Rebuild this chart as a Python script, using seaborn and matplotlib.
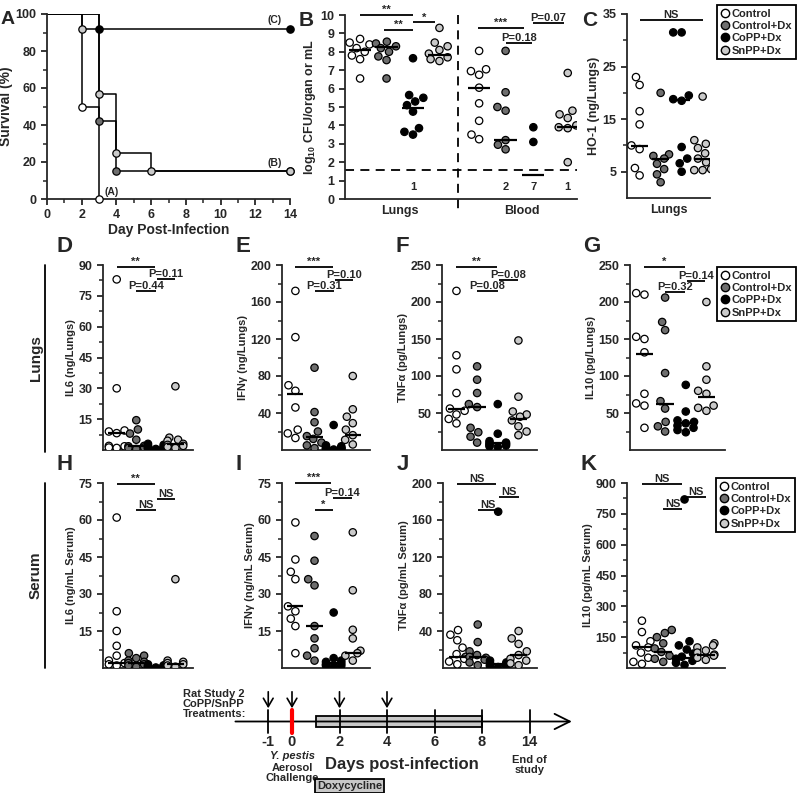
import warnings
import numpy as np
import pandas as pd
import matplotlib
matplotlib.use("Agg")
import matplotlib.pyplot as plt
from matplotlib.lines import Line2D
from matplotlib.patches import Rectangle
import seaborn as sns

warnings.filterwarnings("ignore")

groups = ["Control", "Control+Dx", "CoPP+Dx", "SnPP+Dx"]
group_colors = ["#ffffff", "#6e6e6e", "#000000", "#cacaca"]

# A: survival curves
surv_ctrl_days = [0, 2, 3]
surv_ctrl = [100, 50, 0]
surv_ctrldx_days = [0, 3, 4, 14]
surv_ctrldx = [100, 42, 15, 15]
surv_copp_days = [0, 3, 14]
surv_copp = [100, 92, 92]
surv_snpp_days = [0, 2, 3, 4, 6, 14]
surv_snpp = [100, 92, 57, 25, 15, 15]

# B: log10 CFU, lungs then blood
cfu_pos = [0, 1, 2, 3, 4.5, 5.5, 6.55, 7.85]
cfu_lung = [[8.7, 8.5, 8.4, 8.2, 8.0, 7.8, 7.6, 6.55],
            [8.55, 8.45, 8.3, 8.2, 8.0, 7.75, 7.55, 6.55],
            [7.65, 5.65, 5.5, 5.3, 5.1, 4.75, 3.85, 3.65, 3.5],
            [9.3, 8.5, 8.3, 8.1, 7.9, 7.7, 7.6, 7.5]]
cfu_blood = [[8.05, 7.05, 6.95, 6.75, 6.05, 5.2, 4.25, 3.5, 3.25],
             [8.05, 5.8, 5.0, 4.8, 3.2, 2.95, 2.7],
             [3.9, 3.1],
             [6.85, 4.8, 4.6, 4.4, 4.0, 3.9, 3.85, 2.0]]
cfu_med = [8.1, 8.25, 4.95, 7.85, 6.05, 3.2, 1.3, 3.9]
cfu_below_lod = ["", "", "1", "", "", "2", "7", "1"]
cfu_lod = 1.6

# C: HO-1 (ng/Lungs)
ho1 = [[23, 21.5, 16.5, 14, 10, 9.3, 5.7, 4.3],
       [20, 8.3, 8.0, 7.5, 6.5, 5.5, 4.5, 3.0],
       [31.5, 31.5, 19.5, 18.8, 18.5, 9.7, 7.5, 6.6, 5.0],
       [19.3, 11, 10.3, 9.5, 8.5, 7.5, 6.8, 5.5, 5.3, 5.3]]
ho1_med = [9.8, 7.5, 18.6, 7.5]

# D-G: lungs cytokines
il6_lung = [[83, 30, 9.5, 9.0, 8.2, 2.0, 1.8, 1.2, 1.0],
            [14.5, 10, 8, 5, 2.0, 1.8, 1.2, 1.0, 0.5],
            [3, 2.5, 2, 1.5, 1.5, 1, 1, 0.8, 0.5, 0.5],
            [31, 6, 5, 4.5, 3, 2.5, 2, 1.5, 1]]
il6_lung_med = [8.2, 2.0, 1.2, 2.8]
ifn_lung = [[172, 122, 70, 64, 46, 22, 18, 13],
            [89, 41, 30, 20, 15, 12, 8, 5, 2],
            [27, 5, 4, 3, 2, 2, 1.5, 1, 1, 0.5],
            [80, 44, 36, 29, 22, 16, 11, 6]]
ifn_lung_med = [61, 14, 2, 16]
tnf_lung = [[215, 128, 109, 77, 56, 53, 48, 42, 36],
            [113, 95, 77, 62, 58, 30, 24, 18, 10],
            [62, 22, 12, 10, 9, 8, 7, 6, 5, 4],
            [148, 72, 52, 48, 45, 40, 32, 25, 20]]
tnf_lung_med = [55, 58, 10, 42]
il10_lung = [[212, 210, 153, 150, 132, 76, 63, 60, 30],
             [206, 173, 162, 104, 66, 56, 38, 32, 25],
             [88, 52, 40, 38, 36, 33, 30, 27, 24],
             [200, 113, 95, 80, 76, 60, 57, 53]]
il10_lung_med = [130, 62, 36, 72]

# H-K: serum cytokines
il6_ser = [[61, 23, 15, 9, 5, 3, 2, 1.5, 1],
           [6, 5, 4, 3, 2.5, 2, 1.5, 1, 0.5],
           [1.5, 1, 1, 0.8, 0.5, 0.5, 0.3, 0.3, 0.2],
           [36, 3, 2.5, 2, 1.5, 1, 0.5]]
il6_ser_med = [2, 2, 0.5, 1.5]
ifn_ser = [[59, 44, 39, 36, 25, 23, 20, 17, 6],
           [53.5, 43.5, 36, 33.5, 17, 12, 8, 5, 3],
           [22.5, 4, 3, 2.5, 2, 1.5, 1, 1, 0.5],
           [55, 31.5, 15.5, 12, 7, 6, 5, 3]]
ifn_ser_med = [25, 17, 2, 6]
tnf_ser = [[41, 36, 30, 22, 15, 12, 10, 7, 4],
           [47, 28, 18, 14, 12, 11, 9, 6, 3],
           [169, 8, 6, 5, 4, 3, 3, 2, 2, 1],
           [40, 32, 26, 18, 14, 10, 8, 5, 3]]
tnf_ser_med = [12, 12, 4, 14]
il10_ser = [[230, 175, 130, 110, 100, 75, 50, 30, 20],
            [185, 170, 150, 120, 95, 78, 60, 45, 30],
            [820, 130, 110, 90, 70, 55, 45, 35, 25, 15],
            [120, 110, 100, 85, 75, 65, 60, 50, 40]]
il10_ser_med = [100, 78, 50, 65]

# significance bars: (x1, x2, y, label)
sig_b = [(0, 2, 10.0, "**"), (0.9, 2, 9.2, "**"), (2, 2.85, 9.6, "*"),
         (4.45, 6.2, 9.3, "***"), (5.5, 6.5, 8.5, "P=0.18"), (6.55, 7.7, 9.55, "P=0.07")]
sig_c = [(0, 3, 33.8, "NS")]
sig_d = [(0, 1.95, 89, "**"), (1, 2, 77.5, "P=0.44"), (2.05, 3, 83, "P=0.11")]
sig_e = [(0, 1.95, 198, "***"), (1, 2, 172, "P=0.31"), (2.05, 3, 184, "P=0.10")]
sig_f = [(0, 1.95, 247, "**"), (1, 2, 215, "P=0.08"), (2.05, 3, 230, "P=0.08")]
sig_g = [(0, 1.95, 247, "*"), (1, 1.95, 213, "P=0.32"), (2.05, 2.95, 229, "P=0.14")]
sig_h = [(0, 1.95, 74.5, "**"), (1, 2, 64, "NS"), (2.05, 3, 68.5, "NS")]
sig_i = [(0, 1.85, 75, "***"), (1, 1.95, 64, "*"), (1.95, 2.95, 69, "P=0.14")]
sig_j = [(0, 1.9, 199, "NS"), (1, 1.95, 171, "NS"), (2.05, 3, 185, "NS")]
sig_k = [(0, 1.9, 895, "NS"), (1, 1.9, 773, "NS"), (2.05, 3, 832, "NS")]

# timeline
tl_pos = [-1, 0, 2, 4, 6, 8, 10]
tl_labels = ["-1", "0", "2", "4", "6", "8", "14"]
treat_days = [-1, 0, 2, 4]
doxy_days = [1, 8]

sns.set_style("ticks")
plt.rcParams['font.family'] = ['Liberation Sans', 'DejaVu Sans']
plt.rcParams.update({
    'font.weight': 'bold', 'axes.labelweight': 'bold', 'axes.linewidth': 1.3,
    'xtick.major.width': 1.3, 'ytick.major.width': 1.3,
    'xtick.minor.width': 1.1, 'ytick.minor.width': 1.1,
    'xtick.major.size': 4, 'ytick.major.size': 4,
    'xtick.minor.size': 3, 'ytick.minor.size': 3,
    'xtick.labelsize': 9, 'ytick.labelsize': 9,
    'mathtext.fontset': 'custom', 'mathtext.rm': 'Liberation Sans:bold',
    'mathtext.bf': 'Liberation Sans:bold',
})

W, H = 800, 793
fig = plt.figure(figsize=(W / 100, H / 100), dpi=100)


def add_ax(x0, y0, x1, y1):
    return fig.add_axes([x0 / W, 1 - y1 / H, (x1 - x0) / W, (y1 - y0) / H])


def style(ax):
    for s in ['top', 'right']:
        ax.spines[s].set_visible(False)
    for lab in ax.get_xticklabels() + ax.get_yticklabels():
        lab.set_fontweight('bold')


def dots(ax, vals, meds, xs, half=0.42):
    rows = []
    for g, v, x in zip(groups * 2, vals, xs):
        rows += [(g, x, y) for y in v]
    df = pd.DataFrame(rows, columns=["group", "x", "val"])
    sns.swarmplot(data=df, x="x", y="val", hue="group", hue_order=groups,
                  palette=group_colors, native_scale=True, size=5.3,
                  edgecolor="black", linewidth=0.9, legend=False, ax=ax, zorder=3)
    xs = np.asarray(xs, dtype=float)
    ax.hlines(meds, xs - half, xs + half, colors="black", lw=1.6, zorder=6)


def sig(ax, bars, fs=8):
    for x1, x2, y, lab in bars:
        ax.plot([x1, x2], [y, y], color="black", lw=1.3, clip_on=False,
                solid_capstyle="butt")
        ax.text((x1 + x2) / 2, y, lab, ha="center", va="bottom",
                fontsize=fs, fontweight="bold", clip_on=False)


def cyto_panel(box, vals, meds, bars, ymax, step, ylabel, letter):
    ax = add_ax(*box)
    dots(ax, vals, meds, [0, 1, 2, 3])
    ax.set_xlim(-0.7, 3.9)
    ax.set_ylim(0, ymax)
    ax.set_yticks(np.arange(step, ymax + step / 2, step))
    ax.set_yticks(np.arange(step / 2, ymax, step), minor=True)
    ax.set_xticks([])
    ax.set_xlabel("")
    ax.set_ylabel(ylabel, fontsize=8, labelpad=2)
    sig(ax, bars)
    style(ax)
    fig.text(box[0] / W - 0.058, 1 - (box[1] - 8) / H, letter,
             fontsize=16, fontweight="bold", va="bottom", ha="left")
    return ax


def legend_at(x0, y0):
    handles = [Line2D([], [], ls="", marker="o", markersize=6, mfc=c,
                      mec="black", mew=1.0) for c in group_colors]
    fig.legend(handles, groups, loc="upper left",
               bbox_to_anchor=(x0 / W, 1 - y0 / H), frameon=True,
               fancybox=False, edgecolor="black", framealpha=1,
               prop={"weight": "bold", "size": 8}, handletextpad=0.25,
               borderpad=0.35, labelspacing=0.2, handlelength=0.7,
               borderaxespad=0).get_frame().set_linewidth(1.3)


# ---- A ----
axA = add_ax(47, 14, 290, 199)
surv = [(surv_ctrl_days, surv_ctrl), (surv_ctrldx_days, surv_ctrldx),
        (surv_copp_days, surv_copp), (surv_snpp_days, surv_snpp)]
for d, s in surv:
    sns.lineplot(x=d, y=s, drawstyle="steps-post", color="black", lw=1.1,
                 ax=axA, zorder=2)
for (d, s), c in zip(surv, group_colors):
    axA.scatter(d[1:], s[1:], s=28, color=c, edgecolor="black", lw=0.9,
                zorder=4, clip_on=False)
axA.set_xlim(0, 14)
axA.set_ylim(0, 100)
axA.set_xticks(range(0, 15, 2))
axA.set_xticks(range(1, 15, 2), minor=True)
axA.set_yticks(range(0, 101, 20))
axA.set_yticks(range(10, 100, 20), minor=True)
axA.set_xlabel("Day Post-Infection", fontsize=10, labelpad=1)
axA.set_ylabel("Survival (%)", fontsize=10, labelpad=2)
axA.text(3.3, 2, "(A)", fontsize=7.5, fontweight="bold")
axA.text(13.1, 17, "(B)", fontsize=7.5, fontweight="bold", ha="center", va="bottom")
axA.text(13.1, 94, "(C)", fontsize=7.5, fontweight="bold", ha="center", va="bottom")
style(axA)
fig.text(0.5 / W, 1 - 24 / H, "A", fontsize=14, fontweight="bold")

# ---- B ----
axB = add_ax(345, 15, 577, 199)
dots(axB, cfu_lung + cfu_blood, cfu_med, cfu_pos)
axB.set_xlim(-0.57, 8.2)
axB.set_ylim(0, 10)
axB.set_yticks(range(0, 11))
axB.set_xticks([])
axB.set_xlabel("")
axB.axhline(cfu_lod, color="black", lw=1.3, ls=(0, (5, 3.5)), zorder=1)
axB.plot([3.72, 3.72], [10, -0.75], color="black", lw=1.3, ls=(0, (5, 3.5)),
         clip_on=False)
for x, t in zip(cfu_pos, cfu_below_lod):
    axB.text(x, 0.65, t, ha="center", va="center", fontsize=8, fontweight="bold")
axB.text(1.5, -0.35, "Lungs", ha="center", va="top", fontsize=9, fontweight="bold")
axB.text(6.1, -0.35, "Blood", ha="center", va="top", fontsize=9, fontweight="bold")
axB.set_ylabel(r"log$_{10}$ CFU/organ or mL", fontsize=9, labelpad=2)
sig(axB, sig_b)
style(axB)
fig.text(299 / W, 1 - 26 / H, "B", fontsize=15, fontweight="bold")

# ---- C ----
axC = add_ax(627, 14, 710, 198)
dots(axC, ho1, ho1_med, [0, 1, 2, 3])
axC.set_xlim(-0.6, 3.35)
axC.set_ylim(0, 35)
axC.set_yticks([5, 15, 25, 35])
axC.set_yticks([10, 20, 30], minor=True)
axC.set_xticks([])
axC.set_xlabel("Lungs", fontsize=9, labelpad=4)
axC.set_ylabel("HO-1 (ng/Lungs)", fontsize=9, labelpad=2)
sig(axC, sig_c)
style(axC)
fig.text(582 / W, 1 - 26 / H, "C", fontsize=15, fontweight="bold")
legend_at(717, 5)

# ---- D-G ----
cyto_panel((103, 265, 193, 450), il6_lung, il6_lung_med, sig_d, 90, 15, "IL6 (ng/Lungs)", "D")
cyto_panel((282, 265, 370, 450), ifn_lung, ifn_lung_med, sig_e, 200, 40, "IFNγ (ng/Lungs)", "E")
cyto_panel((442, 265, 537, 450), tnf_lung, tnf_lung_med, sig_f, 250, 50, "TNFα (pg/Lungs)", "F")
cyto_panel((630, 265, 725, 450), il10_lung, il10_lung_med, sig_g, 250, 50, "IL10 (pg/Lungs)", "G")
legend_at(717, 267)

# ---- H-K ----
cyto_panel((103, 483, 193, 668), il6_ser, il6_ser_med, sig_h, 75, 15, "IL6 (ng/mL Serum)", "H")
cyto_panel((282, 483, 370, 668), ifn_ser, ifn_ser_med, sig_i, 75, 15, "IFNγ (ng/mL Serum)", "I")
cyto_panel((443, 483, 537, 668), tnf_ser, tnf_ser_med, sig_j, 200, 40, "TNFα (pg/mL Serum)", "J")
cyto_panel((627, 483, 725, 668), il10_ser, il10_ser_med, sig_k, 900, 150, "IL10 (pg/mL Serum)", "K")
legend_at(716, 478)

# row labels
for txt, y0, y1 in [("Lungs", 265, 452), ("Serum", 483, 668)]:
    fig.add_artist(Line2D([45 / W, 45 / W], [1 - y0 / H, 1 - y1 / H],
                          color="black", lw=1.3))
    fig.text(36 / W, 1 - (y0 + y1) / 2 / H, txt, rotation=90, ha="center",
             va="center", fontsize=11, fontweight="bold")

# ---- timeline ----
axT = add_ax(180, 680, 740, 793)
axT.set_xlim((180 - 292) / 23.75, (740 - 292) / 23.75)
axT.set_ylim(793, 680)
axT.axis("off")
axT.add_patch(Rectangle((doxy_days[0], 716), doxy_days[1] - doxy_days[0], 11,
                        facecolor="#c8c8c8", edgecolor="black", lw=1.3, zorder=2))
axT.annotate("", xy=(11.9, 721.5), xytext=(-2.5, 721.5),
             arrowprops=dict(arrowstyle="->,head_length=1.1,head_width=0.55",
                             lw=1.3, color="black"), zorder=3)
for p, lab in zip(tl_pos, tl_labels):
    red = p == 0
    axT.plot([p, p], [710, 733], color="red" if red else "black",
             lw=3 if red else 1.3, zorder=4)
    axT.text(p, 735, lab, ha="center", va="top", fontsize=10.5, fontweight="bold")
for p in treat_days:
    axT.annotate("", xy=(p, 711), xytext=(p, 689),
                 arrowprops=dict(arrowstyle="->,head_length=0.6,head_width=0.35",
                                 lw=1.2, color="black"))
axT.text(-4.6, 704, "Rat Study 2\nCoPP/SnPP\nTreatments:", ha="left",
         va="center", fontsize=8, fontweight="bold", linespacing=1.05)
axT.text(0, 756, "Y. pestis", ha="center", va="center", fontsize=8,
         fontweight="bold", style="italic")
axT.text(0, 773, "Aerosol\nChallenge", ha="center", va="center", fontsize=8,
         fontweight="bold", linespacing=1.1)
axT.text(4.63, 764, "Days post-infection", ha="center", va="center",
         fontsize=12, fontweight="bold")
axT.text(10, 765, "End of\nstudy", ha="center", va="center", fontsize=8,
         fontweight="bold", linespacing=1.1)
axT.text(1.05, 786, "Doxycycline", ha="left", va="center", fontsize=8,
         fontweight="bold",
         bbox=dict(boxstyle="square,pad=0.15", facecolor="#c8c8c8",
                   edgecolor="black", lw=1.3))

fig.savefig("out.png", dpi=100)
